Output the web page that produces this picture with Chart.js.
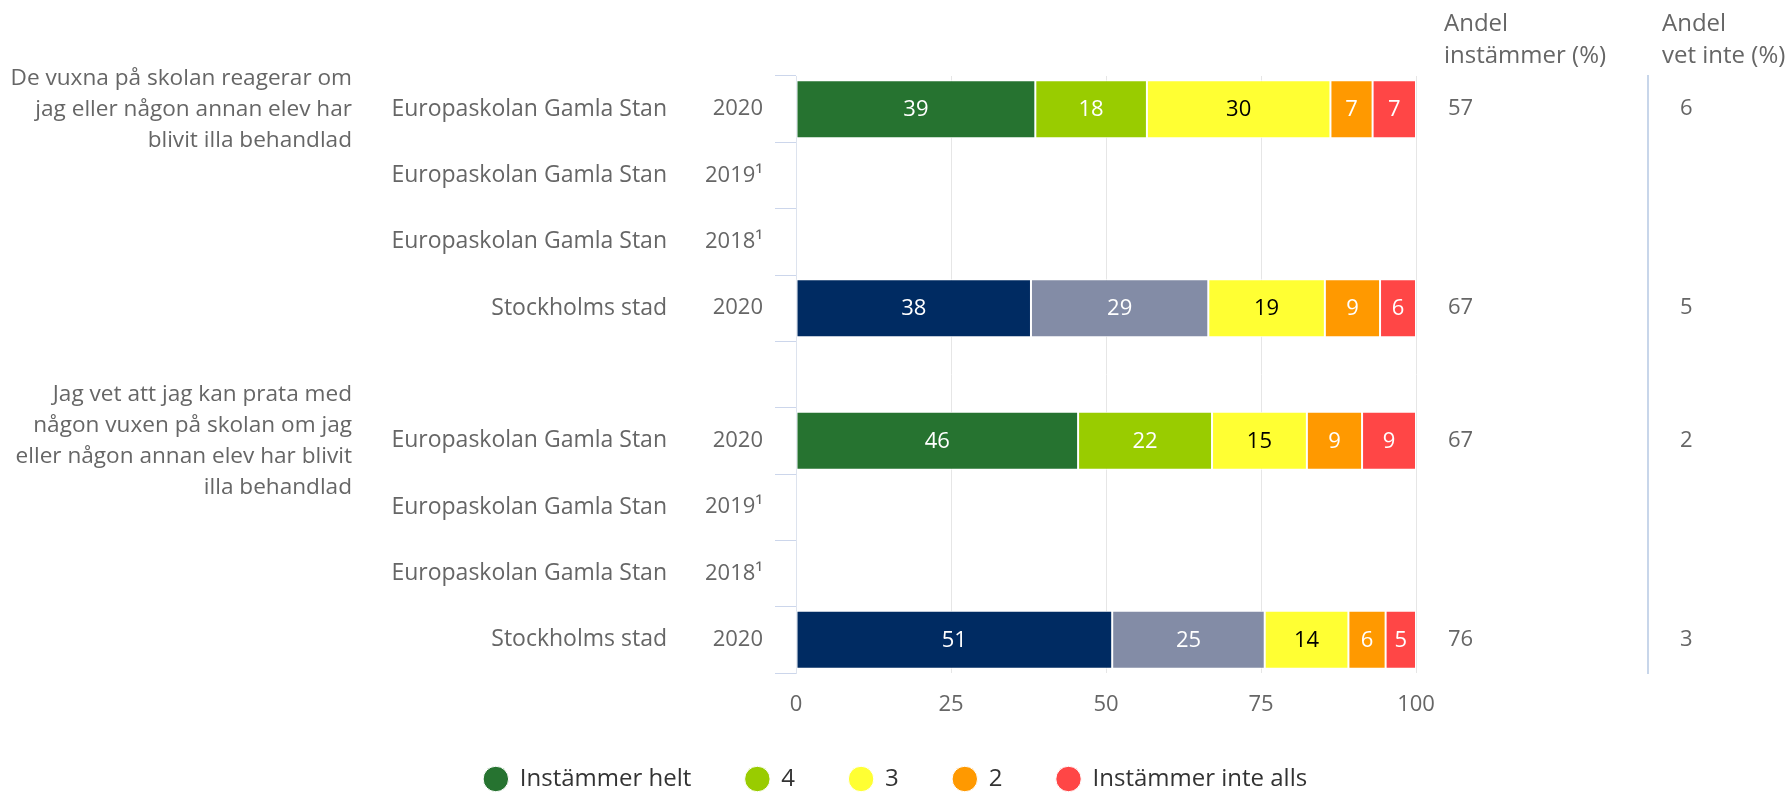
<!DOCTYPE html>
<html>
<head>
<meta charset="utf-8">
<script src="https://cdn.jsdelivr.net/npm/chart.js@4.4.1/dist/chart.umd.min.js"></script>
<style>
html,body{margin:0;padding:0;background:#fff;}
#wrap{width:1791px;height:792px;position:relative;}
</style>
</head>
<body>
<div id="wrap"><canvas id="c"></canvas></div>
<script>
// ---- data ----
const questions = [
  ["De vuxna på skolan reagerar om", "jag eller någon annan elev har", "blivit illa behandlad"],
  "", "", "", "",
  ["Jag vet att jag kan prata med", "någon vuxen på skolan om jag", "eller någon annan elev har blivit", "illa behandlad"],
  "", "", ""
];
const units = ["Europaskolan Gamla Stan", "Europaskolan Gamla Stan", "Europaskolan Gamla Stan", "Stockholms stad", "",
               "Europaskolan Gamla Stan", "Europaskolan Gamla Stan", "Europaskolan Gamla Stan", "Stockholms stad"];
const years = ["2020", "2019¹", "2018¹", "2020", "", "2020", "2019¹", "2018¹", "2020"];
const seriesNames = ["Instämmer helt", "4", "3", "2", "Instämmer inte alls"];
const instammerHelt = [38.6, null, null, 37.9, null, 45.5, null, null, 51.0];
const svar4         = [18.0, null, null, 28.6, null, 21.6, null, null, 24.6];
const svar3         = [29.6, null, null, 18.8, null, 15.3, null, null, 13.5];
const svar2         = [6.8,  null, null, 8.9,  null, 8.9,  null, null, 6.0];
const instammerInte = [7.0,  null, null, 5.8,  null, 8.7,  null, null, 4.9];
const andelInstammer = [57, null, null, 67, null, 67, null, null, 76];
const andelVetInte   = [6, null, null, 5, null, 2, null, null, 3];
const xTicks = [0, 25, 50, 75, 100];
const headerInstammer = ["Andel", "instämmer (%)"];
const headerVetInte = ["Andel", "vet inte (%)"];

// ---- styles ----
const FONT = "'Open Sans', sans-serif";
const schoolColors = ["#267330", "#99cc00", "#ffff33", "#ff9900", "#ff4646"];
const cityColors   = ["#002b62", "#838ca6", "#ffff33", "#ff9900", "#ff4646"];
const labelColors  = ["#ffffff", "#ffffff", "#000000", "#ffffff", "#ffffff"];
const seriesData = [instammerHelt, svar4, svar3, svar2, instammerInte];

const datasets = seriesData.map((d, i) => ({
  label: seriesNames[i],
  data: d,
  yAxisID: 'y',
  backgroundColor: (ctx) => (units[ctx.dataIndex] === "Stockholms stad" ? cityColors[i] : schoolColors[i]),
  borderColor: "#ffffff",
  borderWidth: 1,
  borderSkipped: false,
  categoryPercentage: 1,
  barPercentage: 0.875
}));

const valueLabels = {
  id: 'valueLabels',
  afterDatasetsDraw(chart) {
    const ctx = chart.ctx;
    ctx.save();
    ctx.font = "22px " + FONT;
    ctx.textAlign = 'center';
    ctx.textBaseline = 'middle';
    chart.data.datasets.forEach((ds, i) => {
      const meta = chart.getDatasetMeta(i);
      meta.data.forEach((el, j) => {
        const v = ds.data[j];
        if (v == null) return;
        const p = el.getCenterPoint();
        ctx.fillStyle = labelColors[i];
        ctx.fillText(String(Math.round(v)), p.x, p.y + 1);
      });
    });
    ctx.restore();
  }
};

const headers = {
  id: 'headers',
  afterDraw(chart) {
    const ctx = chart.ctx;
    ctx.save();
    ctx.font = "24px " + FONT;
    ctx.fillStyle = "#666666";
    ctx.textAlign = 'left';
    ctx.textBaseline = 'middle';
    const a = chart.scales.yAgree, b = chart.scales.yDk;
    headerInstammer.forEach((t, k) => ctx.fillText(t, a.left + 28, 24 + k * 32));
    headerVetInte.forEach((t, k) => ctx.fillText(t, b.left + 14, 24 + k * 32));
    ctx.restore();
  }
};

const tickFont = { family: FONT, size: 22 };
const nameFont = { family: FONT, size: 23 };

new Chart(document.getElementById('c'), {
  type: 'bar',
  data: { labels: years, datasets },
  plugins: [valueLabels, headers],
  options: {
    indexAxis: 'y',
    responsive: true,
    maintainAspectRatio: false,
    animation: false,
    events: [],
    layout: { padding: { top: 76, left: 0, right: 0, bottom: 0 } },
    plugins: {
      tooltip: { enabled: false },
      legend: {
        position: 'bottom',
        maxHeight: 79,
        labels: {
          usePointStyle: true,
          pointStyle: 'circle',
          boxWidth: 24,
          boxHeight: 18,
          padding: 54,
          color: '#333333',
          font: { family: FONT, size: 24 }
        }
      }
    },
    scales: {
      x: {
        stacked: true,
        min: 0, max: 100,
        afterBuildTicks: (s) => { s.ticks = xTicks.map(v => ({ value: v })); },
        ticks: { color: '#666666', font: tickFont, padding: 19 },
        grid: { color: '#e6e6e6', drawTicks: false },
        border: { display: false },
        afterFit: (s) => { s.height = 40; }
      },
      y: {
        type: 'category',
        labels: years,
        stacked: true,
        position: 'left',
        weight: 0,
        offset: true,
        grid: { offset: true, drawOnChartArea: false, drawTicks: true, tickLength: 21, color: '#ccd6eb' },
        border: { display: true, color: '#dde3ee' },
        ticks: { color: '#666666', font: tickFont, padding: 12, autoSkip: false },
        afterFit: (s) => { s.width = 93; }
      },
      yUnit: {
        type: 'category',
        labels: units,
        position: 'left',
        weight: 1,
        offset: true,
        grid: { display: false, drawTicks: false },
        border: { display: false },
        ticks: { color: '#666666', font: nameFont, padding: 36, autoSkip: false },
        afterFit: (s) => { s.width = 323; }
      },
      yQ: {
        type: 'category',
        labels: questions,
        position: 'left',
        weight: 2,
        offset: true,
        grid: { display: false, drawTicks: false },
        border: { display: false },
        ticks: { color: '#666666', font: { family: FONT, size: 22.6, lineHeight: 1.37 }, padding: 28, autoSkip: false },
        afterFit: (s) => { s.width = 380; }
      },
      yAgree: {
        type: 'category',
        labels: andelInstammer.map(v => v == null ? '' : String(v)),
        position: 'right',
        weight: 0,
        offset: true,
        grid: { display: false, drawTicks: false },
        border: { display: false },
        ticks: { color: '#666666', font: tickFont, padding: 32, autoSkip: false },
        afterFit: (s) => { s.width = 232; }
      },
      yDk: {
        type: 'category',
        labels: andelVetInte.map(v => v == null ? '' : String(v)),
        position: 'right',
        weight: 1,
        offset: true,
        grid: { display: false, drawTicks: false },
        border: { display: true, color: '#c8d6ea', width: 2 },
        ticks: { color: '#666666', font: tickFont, padding: 32, autoSkip: false },
        afterFit: (s) => { s.width = 143; }
      }
    }
  }
});
</script>
</body>
</html>
